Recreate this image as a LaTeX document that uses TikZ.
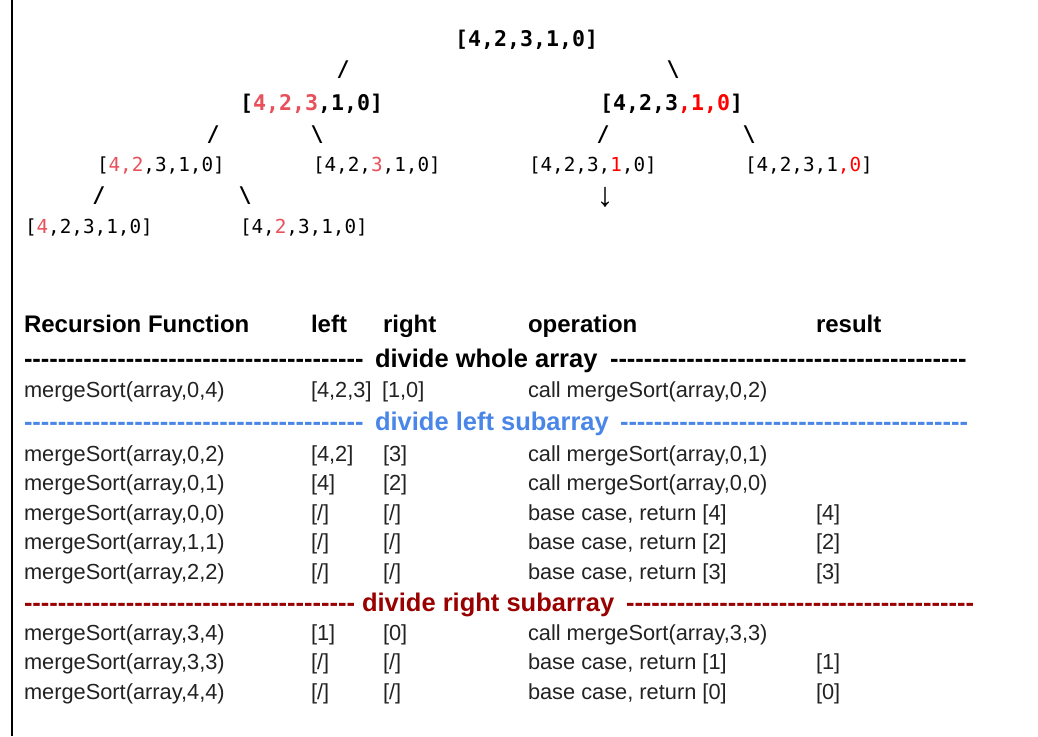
\documentclass[tikz,border=0pt]{standalone}
\usepackage{fontspec}
\setmainfont{Liberation Sans}
\newfontfamily\treefont{DejaVu Sans Mono}
\definecolor{pinkred}{RGB}{232,80,90}
\definecolor{purered}{RGB}{255,0,0}
\definecolor{divblue}{RGB}{74,134,232}
\definecolor{divred}{RGB}{153,0,0}
\definecolor{celltext}{RGB}{34,34,34}
\newcommand\hyphens[1]{\foreach \k in {1,...,#1}{\hbox{-}}}
\begin{document}
\begin{tikzpicture}[x=1pt,y=-1pt,
  every node/.style={inner sep=0pt, outer sep=0pt},
  treeB/.style={anchor=west, font=\treefont\bfseries\fontsize{21.6}{24}\selectfont},
  treeR/.style={anchor=west, font=\treefont\fontsize{19.3}{22}\selectfont},
  edgeglyph/.style={font=\treefont\bfseries\fontsize{21.6}{24}\selectfont},
  head/.style={anchor=base west, font=\bfseries\fontsize{24}{28}\selectfont},
  cell/.style={anchor=base west, font=\fontsize{21.8}{26}\selectfont, text=celltext},
  divider/.style={anchor=base west, font=\bfseries\fontsize{25.5}{28}\selectfont},
]
\fill[white] (0,0) rectangle (1038,736);
\useasboundingbox (0,0) rectangle (1038,736);
\draw[line width=2pt] (12,0) -- (12,736);

% ---------------- tree ----------------
\node[treeB] (t0) at (455,40) {[4,2,3,1,0]};
\node[edgeglyph] (s1a) at (343,70) {/};
\node[edgeglyph] (s1b) at (673,70) {\textbackslash};
\node[treeB] (t1a) at (240,104) {[{\color{pinkred}4,2,3},1,0]};
\node[treeB] (t1b) at (600,104) {[4,2,3{\color{purered},1,0}]};
\node[edgeglyph] (s2a) at (213,135) {/};
\node[edgeglyph] (s2b) at (317,135) {\textbackslash};
\node[edgeglyph] (s2c) at (603,135) {/};
\node[edgeglyph] (s2d) at (749,135) {\textbackslash};
\node[treeR] (t2a) at (97,166) {[{\color{pinkred}4,2},3,1,0]};
\node[treeR] (t2b) at (313,166) {[4,2,{\color{pinkred}3},1,0]};
\node[treeR] (t2c) at (529,166) {[4,2,3,{\color{purered}1},0]};
\node[treeR] (t2d) at (745,166) {[4,2,3,1{\color{purered},0}]};
\node[edgeglyph] (s3a) at (99,196) {/};
\node[edgeglyph] (s3b) at (245,196) {\textbackslash};
\node[font=\fontsize{34}{36}\selectfont] (ar) at (605,197) {↓};
\node[treeR] (t3a) at (25,228) {[{\color{pinkred}4},2,3,1,0]};
\node[treeR] (t3b) at (240,228) {[4,{\color{pinkred}2},3,1,0]};

% ---------------- table ----------------
\node[head] (h1) at (24,332) {Recursion Function};
\node[head] (h2) at (311,332) {left};
\node[head] (h3) at (383,332) {right};
\node[head] (h4) at (528,332) {operation};
\node[head] (h5) at (816,332) {result};

\node[divider] (d1l) at (24,367) {\hyphens{40}};
\node[divider] (d1t) at (375,367) {divide whole array};
\node[divider] (d1r) at (610,367) {\hyphens{42}};

\node[cell] (r1a) at (24,397) {mergeSort(array,0,4)};
\node[cell] (r1b) at (311,397) {[4,2,3]};
\node[cell] (r1c) at (382,397) {[1,0]};
\node[cell] (r1d) at (528,397) {call mergeSort(array,0,2)};

\node[divider, text=divblue] (d2l) at (24,430) {\hyphens{40}};
\node[divider, text=divblue] (d2t) at (375,430) {divide left subarray};
\node[divider, text=divblue] (d2r) at (620,430) {\hyphens{41}};

\node[cell] (r2a) at (24,461) {mergeSort(array,0,2)};
\node[cell] (r2b) at (311,461) {[4,2]};
\node[cell] (r2c) at (383,461) {[3]};
\node[cell] (r2d) at (528,461) {call mergeSort(array,0,1)};

\node[cell] (r3a) at (24,490.5) {mergeSort(array,0,1)};
\node[cell] (r3b) at (311,490.5) {[4]};
\node[cell] (r3c) at (383,490.5) {[2]};
\node[cell] (r3d) at (528,490.5) {call mergeSort(array,0,0)};

\node[cell] (r4a) at (24,520) {mergeSort(array,0,0)};
\node[cell] (r4b) at (311,520) {[/]};
\node[cell] (r4c) at (383,520) {[/]};
\node[cell] (r4d) at (528,520) {base case, return [4]};
\node[cell] (r4e) at (816,520) {[4]};

\node[cell] (r5a) at (24,549.5) {mergeSort(array,1,1)};
\node[cell] (r5b) at (311,549.5) {[/]};
\node[cell] (r5c) at (383,549.5) {[/]};
\node[cell] (r5d) at (528,549.5) {base case, return [2]};
\node[cell] (r5e) at (816,549.5) {[2]};

\node[cell] (r6a) at (24,579) {mergeSort(array,2,2)};
\node[cell] (r6b) at (311,579) {[/]};
\node[cell] (r6c) at (383,579) {[/]};
\node[cell] (r6d) at (528,579) {base case, return [3]};
\node[cell] (r6e) at (816,579) {[3]};

\node[divider, text=divred] (d3l) at (24,611) {\hyphens{39}};
\node[divider, text=divred] (d3t) at (362,611) {divide right subarray};
\node[divider, text=divred] (d3r) at (626,611) {\hyphens{41}};

\node[cell] (r7a) at (24,640) {mergeSort(array,3,4)};
\node[cell] (r7b) at (311,640) {[1]};
\node[cell] (r7c) at (383,640) {[0]};
\node[cell] (r7d) at (528,640) {call mergeSort(array,3,3)};

\node[cell] (r8a) at (24,669.5) {mergeSort(array,3,3)};
\node[cell] (r8b) at (311,669.5) {[/]};
\node[cell] (r8c) at (383,669.5) {[/]};
\node[cell] (r8d) at (528,669.5) {base case, return [1]};
\node[cell] (r8e) at (816,669.5) {[1]};

\node[cell] (r9a) at (24,699) {mergeSort(array,4,4)};
\node[cell] (r9b) at (311,699) {[/]};
\node[cell] (r9c) at (383,699) {[/]};
\node[cell] (r9d) at (528,699) {base case, return [0]};
\node[cell] (r9e) at (816,699) {[0]};
\end{tikzpicture}
\end{document}
